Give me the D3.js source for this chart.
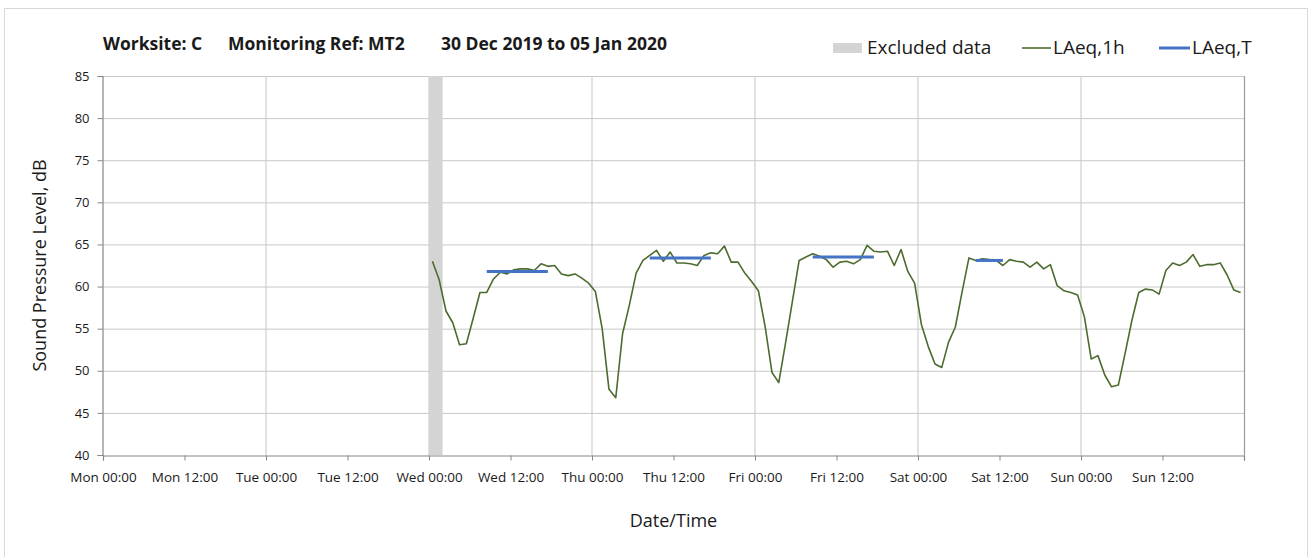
<!DOCTYPE html>
<html>
<head>
<meta charset="utf-8">
<script src="https://cdn.jsdelivr.net/npm/d3@7"></script>
<style>
    body { margin: 0; background: #fff; }
    svg text { font-family: "Open Sans", "DejaVu Sans", sans-serif; fill: #1a1a1a; }
</style>
</head>
<body>
<svg id="chart" width="1309" height="557"></svg>
<script>
// hourly LAeq,1h values, first value is Wed 01 Jan 2020 00:00-01:00
let seriesStart = new Date(2020, 0, 1, 0, 0);
let laeq1h = [
    63.0, 60.8, 57.1, 55.7, 53.1, 53.2, 56.2, 59.3, 59.3, 60.9, 61.7, 61.5,
    62.0, 62.1, 62.1, 61.9, 62.7, 62.4, 62.5, 61.5, 61.3, 61.5, 61.0, 60.4,
    59.4, 55.0, 47.8, 46.8, 54.4, 57.8, 61.6, 63.1, 63.7, 64.3, 63.0, 64.1,
    62.8, 62.8, 62.7, 62.5, 63.7, 64.0, 63.9, 64.8, 62.9, 62.9, 61.6, 60.6,
    59.5, 55.2, 49.8, 48.6, 53.3, 58.2, 63.1, 63.5, 63.9, 63.6, 63.2, 62.3,
    62.9, 63.0, 62.7, 63.2, 64.9, 64.2, 64.1, 64.2, 62.5, 64.4, 61.8, 60.4,
    55.5, 52.9, 50.8, 50.4, 53.4, 55.2, 59.4, 63.4, 63.1, 63.3, 63.2, 63.1,
    62.5, 63.2, 63.0, 62.9, 62.3, 62.9, 62.1, 62.6, 60.1, 59.5, 59.3, 59.0,
    56.4, 51.4, 51.8, 49.5, 48.1, 48.3, 52.1, 56.0, 59.3, 59.7, 59.6, 59.1,
    61.9, 62.8, 62.5, 62.9, 63.8, 62.4, 62.6, 62.6, 62.8, 61.4, 59.6, 59.3
];

// LAeq,T over the working periods
let periodDays = [new Date(2020, 0, 1), new Date(2020, 0, 2), new Date(2020, 0, 3), new Date(2020, 0, 4)];
let periodFirstHour = [8, 8, 8, 8];
let periodLastHour = [17, 17, 17, 12];
let periodValues = [61.8, 63.4, 63.5, 63.1];

// excluded data
let excludedFrom = [new Date(2020, 0, 1, 0)];
let excludedTo = [new Date(2020, 0, 1, 2)];

let weekStart = new Date(2019, 11, 30);
let weekEnd = new Date(2020, 0, 6);
let yTicks = [40, 45, 50, 55, 60, 65, 70, 75, 80, 85];
let legendLabels = ['Excluded data', 'LAeq,1h', 'LAeq,T'];

let svg = d3.select('#chart');

let plot = {
    "left": 103,
    "right": 1244,
    "top": 76,
    "bottom": 455
};

// outer frame
svg.append('rect')
    .attr('x', 4.5)
    .attr('y', 8.5)
    .attr('width', 1303)
    .attr('height', 560)
    .style('fill', 'none')
    .style('stroke', '#d9d9d9');

let x = d3.scaleTime()
    .domain([weekStart, weekEnd])
    .range([plot.left, plot.right]);

let y = d3.scaleLinear()
    .domain([40, 85])
    .range([plot.bottom, plot.top]);

let dayLines = d3.timeDay.range(weekStart, d3.timeDay.offset(weekEnd, 1));

// vertical gridlines at midnight
svg.append('g')
    .selectAll('line')
    .data(dayLines.slice(1, -1))
    .enter()
    .append('line')
    .attr('x1', d => x(d))
    .attr('x2', d => x(d))
    .attr('y1', plot.top)
    .attr('y2', plot.bottom)
    .style('stroke', '#d9d9d9')
    .style('stroke-width', 1.5);

// horizontal gridlines
svg.append('g')
    .selectAll('line')
    .data(yTicks.slice(1))
    .enter()
    .append('line')
    .attr('x1', plot.left)
    .attr('x2', plot.right)
    .attr('y1', d => y(d) + 0.5)
    .attr('y2', d => y(d) + 0.5)
    .style('stroke', '#c8c8c8')
    .style('stroke-width', 1);

// excluded data band
svg.append('g')
    .selectAll('rect')
    .data(excludedFrom)
    .enter()
    .append('rect')
    .attr('x', d => x(d))
    .attr('width', (d, i) => x(excludedTo[i]) - x(d))
    .attr('y', plot.top)
    .attr('height', plot.bottom - plot.top)
    .style('fill', '#d4d4d4');

// axes
let xAxis = d3.axisBottom(x)
    .ticks(d3.timeHour.every(12))
    .tickSize(5)
    .tickFormat(d => +d === +weekEnd ? '' : d3.timeFormat('%a %H:%M')(d));

let gx = svg.append('g')
    .attr('transform', 'translate(0,' + (plot.bottom + 0.5) + ')')
    .call(xAxis);
gx.select('.domain').style('stroke', '#868686').style('stroke-width', 1.2);
gx.selectAll('.tick line').style('stroke', '#868686');
gx.selectAll('.tick text')
    .attr('dy', '1.4em')
    .style('font-size', '13.5px')
    .style('fill', '#1a1a1a');

let yAxis = d3.axisLeft(y)
    .tickValues(yTicks)
    .tickSize(5)
    .tickPadding(8);

let gy = svg.append('g')
    .attr('transform', 'translate(' + (plot.left - 0.5) + ',0)')
    .call(yAxis);
gy.select('.domain').style('stroke', '#868686').style('stroke-width', 1.2);
gy.selectAll('.tick line').style('stroke', '#868686');
gy.selectAll('.tick text')
    .style('font-size', '13px')
    .style('fill', '#1a1a1a');

// right edge of the plot area
svg.append('line')
    .attr('x1', x(weekEnd) + 0.5)
    .attr('x2', x(weekEnd) + 0.5)
    .attr('y1', plot.top)
    .attr('y2', plot.bottom)
    .style('stroke', '#9a9a9a')
    .style('stroke-width', 1.2);

// LAeq,1h line, each hour plotted at its mid point
let hourly = laeq1h.map((v, i) => ({
    "time": d3.timeMinute.offset(d3.timeHour.offset(seriesStart, i), 30),
    "value": v
}));

let line = d3.line()
    .x(d => x(d.time))
    .y(d => y(d.value));

svg.append('path')
    .datum(hourly)
    .attr('d', line)
    .style('fill', 'none')
    .style('stroke', '#4c6b2f')
    .style('stroke-width', 1.6)
    .style('stroke-linejoin', 'round');

// LAeq,T lines
let periods = periodValues.map((v, i) => [
    {"time": d3.timeMinute.offset(d3.timeHour.offset(periodDays[i], periodFirstHour[i]), 30), "value": v},
    {"time": d3.timeMinute.offset(d3.timeHour.offset(periodDays[i], periodLastHour[i]), 30), "value": v}
]);

svg.append('g')
    .selectAll('path')
    .data(periods)
    .enter()
    .append('path')
    .attr('d', line)
    .style('fill', 'none')
    .style('stroke', '#4472c4')
    .style('stroke-width', 3);

// title
let title = svg.append('text')
    .attr('y', 50)
    .style('font-size', '17.5px')
    .style('font-weight', 'bold');
title.append('tspan').attr('x', 103).text('Worksite: C');
title.append('tspan').attr('x', 228).text('Monitoring Ref: MT2');
title.append('tspan').attr('x', 441).text('30 Dec 2019 to 05 Jan 2020');

// axis titles
svg.append('text')
    .attr('x', (plot.left + plot.right) / 2)
    .attr('y', 527)
    .attr('text-anchor', 'middle')
    .style('font-size', '18px')
    .text('Date/Time');

svg.append('text')
    .attr('transform', 'translate(46,' + ((plot.top + plot.bottom) / 2) + ') rotate(-90)')
    .attr('text-anchor', 'middle')
    .style('font-size', '18px')
    .text('Sound Pressure Level, dB');

// legend
let legend = svg.append('g');

legend.append('rect')
    .attr('x', 833)
    .attr('y', 43)
    .attr('width', 29)
    .attr('height', 10)
    .style('fill', '#d4d4d4');
legend.append('text')
    .attr('x', 867)
    .attr('y', 54)
    .style('font-size', '19px')
    .text(legendLabels[0]);

legend.append('line')
    .attr('x1', 1022).attr('x2', 1051)
    .attr('y1', 48).attr('y2', 48)
    .style('stroke', '#4c6b2f')
    .style('stroke-width', 1.6);
legend.append('text')
    .attr('x', 1053)
    .attr('y', 54)
    .style('font-size', '19px')
    .text(legendLabels[1]);

legend.append('line')
    .attr('x1', 1159).attr('x2', 1190)
    .attr('y1', 48).attr('y2', 48)
    .style('stroke', '#4472c4')
    .style('stroke-width', 3);
legend.append('text')
    .attr('x', 1192)
    .attr('y', 54)
    .style('font-size', '19px')
    .text(legendLabels[2]);
</script>
</body>
</html>
